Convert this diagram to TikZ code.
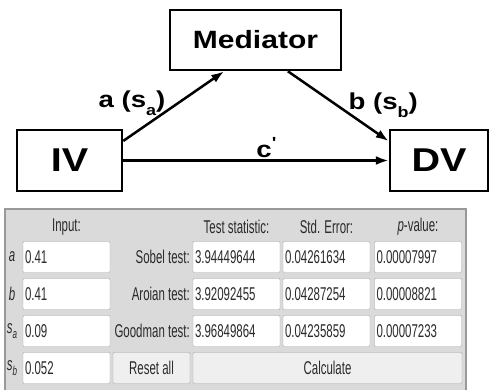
\documentclass[tikz,border=0pt]{standalone}
\usepackage{fontspec}
\setmainfont{Liberation Sans}
\newfontfamily\pathfont[FakeStretch=1.2]{Liberation Sans}
\newfontfamily\formfont[FakeStretch=0.62]{Liberation Sans}
\usetikzlibrary{arrows.meta}
\definecolor{panelgray}{HTML}{DADADA}
\definecolor{buttongray}{HTML}{EFEFEF}
\definecolor{formtext}{HTML}{2A2A2A}
\newcommand{\sub}[1]{\raisebox{-0.35em}{\fontsize{15}{15}\selectfont #1}}
\begin{document}
\begin{tikzpicture}[x=1pt, y=-1pt]
      \tikzstyle{varbox} = [draw=black, line width=2.5pt, rectangle, inner sep=0pt, font=\pathfont\bfseries]
      \tikzstyle{path} = [line width=2.5pt, -{Latex[length=13pt, width=9pt]}]
      \tikzstyle{plabel} = [font=\pathfont\bfseries\fontsize{23}{26}\selectfont, inner sep=1pt]
      \tikzstyle{field} = [draw=black!35, fill=white, rounded corners=1pt, inner xsep=2pt, inner ysep=0pt,
                           text width=83pt, minimum height=31pt, align=left, text=formtext,
                           font=\formfont\fontsize{18.5}{20}\selectfont]
      \tikzstyle{button} = [draw=black!35, fill=buttongray, rounded corners=1pt, inner sep=0pt,
                            minimum height=31pt, text=formtext, font=\formfont\fontsize{18.5}{20}\selectfont]
      \tikzstyle{ftext} = [inner sep=0pt, text=formtext, font=\formfont\fontsize{18.5}{20}\selectfont]
      \useasboundingbox (0,0) rectangle (489,389);

      % path diagram
      \node[varbox, minimum width=171pt, minimum height=60pt] (med) at (255.5,40)
           {\fontsize{25}{28}\selectfont Mediator};
      \node[varbox, minimum width=105pt, minimum height=61pt] (iv) at (69.5,160.5)
           {\fontsize{33}{36}\selectfont IV};
      \node[varbox, minimum width=98pt, minimum height=61pt] (dv) at (439,160.5)
           {\fontsize{33}{36}\selectfont DV};

      \draw[path] (iv.20) to node[plabel, pos=0.44, anchor=south east, yshift=-8pt] {a (s\sub{a})} (med.225);
      \draw[path] (med.316) to node[plabel, pos=0.58, anchor=south west, yshift=-8pt] {b (s\sub{b})} (dv.159);
      \draw[path] (iv.east) to node[plabel, pos=0.54, above=1pt] {c\textsuperscript{'}} (dv.west);

      % calculator panel
      \node[draw=black!40, line width=1.2pt, fill=panelgray, rectangle, inner sep=0pt,
            minimum width=461pt, minimum height=184pt] (panel) at (235.5,301) {};

      \node[ftext] (hinput) at (66.5,227) {Input:};
      \node[ftext] (hstat) at (236.5,227) {Test statistic:};
      \node[ftext] (herr) at (326.5,227) {Std. Error:};
      \node[ftext] (hp) at (418,227) {\itshape p\upshape-value:};

      \node[ftext] (la) at (12,257) {\itshape a};
      \node[ftext] (lb) at (12,294) {\itshape b};
      \node[ftext] (lsa) at (12,331) {\itshape s\raisebox{-0.3em}{\fontsize{13}{13}\selectfont a}};
      \node[ftext] (lsb) at (12,368) {\itshape s\raisebox{-0.3em}{\fontsize{13}{13}\selectfont b}};

      \node[field] (ina) at (66.5,257) {0.41};
      \node[field] (inb) at (66.5,294) {0.41};
      \node[field] (insa) at (66.5,331) {0.09};
      \node[field] (insb) at (66.5,368) {0.052};

      \node[ftext, anchor=east] (lsobel) at (190,257) {Sobel test:};
      \node[ftext, anchor=east] (laroian) at (190,294) {Aroian test:};
      \node[ftext, anchor=east] (lgood) at (190,331) {Goodman test:};

      \node[field] (sobelz) at (236.5,257) {3.94449644};
      \node[field] (sobelse) at (326.5,257) {0.04261634};
      \node[field] (sobelp) at (418,257) {0.00007997};
      \node[field] (aroianz) at (236.5,294) {3.92092455};
      \node[field] (aroianse) at (326.5,294) {0.04287254};
      \node[field] (aroianp) at (418,294) {0.00008821};
      \node[field] (goodz) at (236.5,331) {3.96849864};
      \node[field] (goodse) at (326.5,331) {0.04235859};
      \node[field] (goodp) at (418,331) {0.00007233};

      \node[button, minimum width=77pt] (reset) at (151.5,368) {Reset all};
      \node[button, minimum width=269pt] (calc) at (327.5,368) {Calculate};
    \end{tikzpicture}
\end{document}
